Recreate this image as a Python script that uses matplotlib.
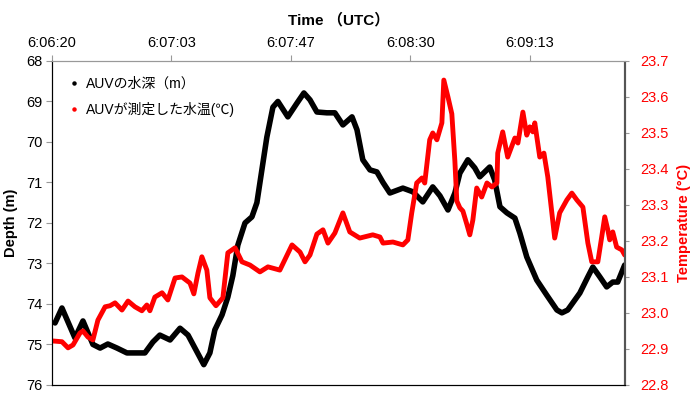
import matplotlib
matplotlib.use("Agg")
import matplotlib.pyplot as plt
from matplotlib.lines import Line2D

plt.rcParams["font.family"] = ["Liberation Sans", "Noto Sans CJK JP", "DejaVu Sans"]

# seconds after 6:06:20 UTC
depth_t = [1.1, 3.6, 8.3, 11.2, 14.8, 17.4, 20.2, 23.5, 27.1, 30.7, 33.6, 36.5, 39.0, 42.7,
           46.3, 49.2, 51.7, 54.9, 57.1, 58.9, 61.5, 63.6, 65.4, 67.2, 69.8, 72.3, 74.1, 75.9,
           77.7, 79.9, 81.7, 85.3, 88.6, 91.1, 93.3, 95.8, 99.4, 102.3, 105.2, 108.5, 110.3,
           112.4, 115.0, 117.5, 119.7, 122.2, 126.9, 130.5, 134.1, 137.7, 140.3, 143.2, 145.7,
           147.5, 150.4, 152.9, 154.7, 158.3, 160.1, 162.0, 164.5, 167.4, 169.2, 171.7, 175.3,
           178.9, 182.6, 184.4, 186.5, 190.9, 193.8, 195.6, 198.1, 200.6, 202.8, 204.6, 207.1]
depth_m = [74.47, 74.10, 74.84, 74.42, 75.00, 75.09, 74.99, 75.09, 75.21, 75.21, 75.21, 74.94,
           74.77, 74.89, 74.60, 74.77, 75.09, 75.50, 75.21, 74.64, 74.27, 73.83, 73.30, 72.55,
           72.00, 71.85, 71.50, 70.69, 69.88, 69.14, 69.00, 69.38, 69.04, 68.79, 68.96, 69.26,
           69.28, 69.28, 69.58, 69.38, 69.70, 70.44, 70.69, 70.74, 71.00, 71.26, 71.14, 71.23,
           71.48, 71.11, 71.33, 71.68, 71.26, 70.77, 70.44, 70.64, 70.86, 70.62, 70.94, 71.60,
           71.75, 71.88, 72.25, 72.84, 73.41, 73.78, 74.15, 74.22, 74.15, 73.73, 73.33, 73.09,
           73.33, 73.58, 73.46, 73.46, 73.04]

temp_t = [0.4, 3.6, 5.8, 7.6, 10.1, 11.2, 13.0, 14.8, 16.6, 19.2, 21.0, 22.8, 25.3, 27.5, 30.0,
          32.5, 34.3, 35.4, 37.2, 39.8, 41.9, 44.5, 47.0, 49.9, 51.3, 52.8, 54.2, 56.0, 57.1,
          59.3, 61.8, 63.6, 66.2, 68.7, 71.6, 75.2, 78.1, 82.4, 86.8, 89.7, 91.5, 93.3, 95.8,
          98.0, 99.8, 102.3, 105.2, 107.7, 111.3, 116.0, 118.6, 119.7, 123.3, 126.9, 128.7,
          130.1, 131.9, 133.8, 134.8, 136.6, 137.7, 139.2, 141.0, 141.7, 143.2, 144.6, 145.7,
          146.4, 147.5, 148.6, 150.0, 151.1, 152.2, 153.6, 155.4, 157.3, 159.1, 160.9, 161.2,
          163.0, 164.8, 167.4, 168.5, 170.3, 171.7, 172.8, 173.9, 174.6, 176.4, 177.9, 179.3,
          181.8, 183.6, 186.2, 188.0, 189.8, 192.0, 193.8, 195.2, 197.4, 198.8, 199.9, 201.0,
          201.7, 202.8, 204.2, 206.1, 207.1]
temp_c = [22.922, 22.920, 22.903, 22.911, 22.944, 22.950, 22.933, 22.925, 22.980, 23.017, 23.020,
          23.028, 23.008, 23.033, 23.017, 23.006, 23.022, 23.006, 23.044, 23.056, 23.036, 23.097,
          23.100, 23.083, 23.053, 23.111, 23.156, 23.119, 23.042, 23.020, 23.042, 23.167, 23.181,
          23.142, 23.133, 23.114, 23.128, 23.119, 23.189, 23.169, 23.142, 23.161, 23.219, 23.231,
          23.194, 23.222, 23.278, 23.225, 23.208, 23.217, 23.211, 23.194, 23.197, 23.189, 23.203,
          23.278, 23.361, 23.375, 23.361, 23.481, 23.500, 23.481, 23.528, 23.647, 23.600, 23.553,
          23.422, 23.311, 23.292, 23.283, 23.247, 23.217, 23.258, 23.347, 23.322, 23.361, 23.350,
          23.361, 23.444, 23.503, 23.433, 23.486, 23.472, 23.558, 23.494, 23.517, 23.503, 23.528,
          23.433, 23.444, 23.378, 23.208, 23.278, 23.314, 23.333, 23.314, 23.294, 23.194, 23.142,
          23.142, 23.211, 23.267, 23.231, 23.203, 23.225, 23.183, 23.175, 23.161]

tick_pos = [0, 43.2, 86.4, 129.6, 172.8]
tick_labels = ["6:06:20", "6:07:03", "6:07:47", "6:08:30", "6:09:13"]

fig = plt.figure(figsize=(6.97, 3.96), dpi=100)
ax = fig.add_axes([0.0746, 0.028, 0.822, 0.818])
ax2 = ax.twinx()

ax.plot(depth_t, depth_m, color="black", lw=4, solid_capstyle="round", solid_joinstyle="round")
ax2.plot(temp_t, temp_c, color="red", lw=3.5, solid_capstyle="round", solid_joinstyle="round")

ax.set_xlim(0, 207.2)
ax.set_ylim(76, 68)
ax2.set_ylim(22.8, 23.7)

ax.xaxis.tick_top()
ax.xaxis.set_label_position("top")
ax.set_xticks(tick_pos)
ax.set_xticklabels(tick_labels)
ax.set_xlabel("Time （UTC）", fontsize=11, fontweight="bold", labelpad=8)
ax.set_yticks(range(68, 77))
ax.set_ylabel("Depth (m)", fontsize=10.5, fontweight="bold", labelpad=6)
ax2.set_yticks([22.8 + 0.1 * i for i in range(10)])
ax2.set_yticklabels([f"{22.8 + 0.1 * i:.1f}" for i in range(10)])
ax2.set_ylabel("Temperature (°C)", fontsize=10.5, fontweight="bold", color="red", labelpad=6)

ax.tick_params(axis="x", labelsize=10.5, direction="out", length=4, color="#999999", pad=4)
ax.tick_params(axis="y", labelsize=10.5, direction="out", length=4, color="#999999", pad=3)
ax2.tick_params(axis="y", labelsize=10.5, labelcolor="red", direction="out", length=3,
                color="#999999", pad=8)

for a in (ax, ax2):
    a.spines["top"].set_color("#999999")
    a.spines["bottom"].set_color("black")
    a.spines["left"].set_color("black")
    a.spines["right"].set_color("#555555")
    a.spines["right"].set_linestyle((0, (1, 1)))
    a.spines["right"].set_linewidth(1.5)

handles = [Line2D([], [], color="black", marker="o", markersize=2.2, linestyle="none"),
           Line2D([], [], color="red", marker="o", markersize=2.2, linestyle="none")]
ax2.legend(handles, ["AUVの水深（m）", "AUVが測定した水温(℃)"], loc="upper left",
           frameon=False, fontsize=10, handlelength=0.6, handletextpad=0.5, labelspacing=0.8,
           bbox_to_anchor=(0.01, 0.99))

fig.savefig("out.png", dpi=100)
